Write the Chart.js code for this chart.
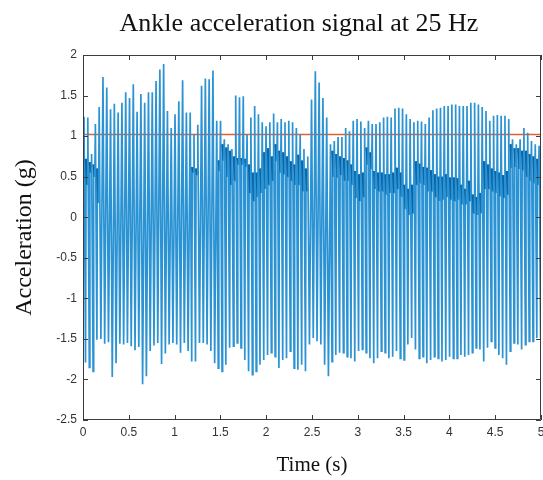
<!DOCTYPE html>
<html>
<head>
<meta charset="utf-8">
<script src="https://cdn.jsdelivr.net/npm/chart.js@4.4.1/dist/chart.umd.min.js"></script>
<style>
  html, body { margin: 0; padding: 0; background: #fff; overflow: hidden; }
  #wrap { position: relative; width: 543px; height: 480px; }
  #title {
    position: absolute; left: 99px; top: 8px; width: 400px;
    line-height: 30px; text-align: center; white-space: nowrap;
    font: 26px "Liberation Serif", serif; color: #111;
  }
</style>
</head>
<body>
<div id="wrap">
  <canvas id="chart" width="543" height="480"></canvas>
  <div id="title">Ankle acceleration signal at 25 Hz</div>
</div>
<script>
// one oscillation per cycle left to right
const firstPeakTime = 0.011; // s
const cyclePeriod = 0.0414;  // s

// peak value of each cycle (g)
const peaks = [
  1.24, 1.23, 0.78, 1.15, 1.36, 1.73, 1.60, 1.33, 1.40, 1.29, 1.41, 1.54, 1.47, 1.64, 1.30, 1.52, 1.41, 1.54, 1.54, 1.68, 1.82, 1.89, 1.31, 1.10,
  1.27, 1.43, 1.69, 1.29, 1.29, 1.02, 1.14, 1.62, 1.71, 1.70, 1.81, 1.19, 1.19, 0.96, 0.90, 0.84, 1.50, 1.48, 1.49, 1.02, 1.23, 1.37, 1.27, 1.17,
  1.12, 1.17, 1.28, 1.17, 1.21, 1.17, 1.19, 1.17, 1.10, 1.02, 0.84, 0.75, 1.45, 1.80, 1.66, 1.47, 1.23, 0.90, 0.94, 0.99, 0.99, 1.10, 1.06, 1.19, 1.21,
  1.18, 1.10, 1.19, 1.15, 1.15, 1.17, 1.23, 1.24, 1.23, 1.34, 1.35, 1.34, 1.27, 1.21, 1.17, 1.19, 1.18, 1.15, 1.23, 1.32, 1.34, 1.35, 1.37, 1.37,
  1.39, 1.39, 1.37, 1.37, 1.37, 1.41, 1.41, 1.39, 1.36, 1.31, 1.19, 1.25, 1.26, 1.25, 1.25, 1.21, 0.96, 0.90, 0.96, 1.10, 1.04, 0.94, 0.90, 0.88
];

// trough after each peak (g)
const troughs = [
  -1.79, -1.85, -1.90, -1.51, -1.50, -1.56, -1.54, -1.97, -1.80, -1.56, -1.57, -1.55, -1.59, -1.64, -1.60, -2.06, -1.96, -1.65, -1.58, -1.55, -1.81, -1.68, -1.57, -1.55,
  -1.57, -1.67, -1.55, -1.65, -1.78, -1.78, -1.55, -1.55, -1.57, -1.65, -1.80, -1.86, -1.90, -1.82, -1.61, -1.59, -1.55, -1.61, -1.76, -1.90, -1.94, -1.90, -1.82, -1.76,
  -1.70, -1.67, -1.72, -1.86, -1.76, -1.74, -1.65, -1.86, -1.88, -1.82, -1.90, -1.57, -1.49, -1.53, -1.57, -1.82, -1.96, -1.78, -1.70, -1.67, -1.67, -1.72, -1.74, -1.78, -1.65,
  -1.63, -1.67, -1.74, -1.80, -1.74, -1.65, -1.67, -1.74, -1.72, -1.65, -1.74, -1.76, -1.57, -1.49, -1.63, -1.74, -1.72, -1.80, -1.76, -1.72, -1.74, -1.78, -1.76, -1.72,
  -1.74, -1.74, -1.70, -1.72, -1.70, -1.67, -1.61, -1.63, -1.78, -1.61, -1.53, -1.61, -1.70, -1.74, -1.82, -1.65, -1.55, -1.57, -1.63, -1.57, -1.53, -1.53, -1.49, -1.49
];

// small bump on the way up (the darker band), null where there is none
const bumpHigh = [
  0.72, 0.68, 0.65, 0.60, null, null, null, null, null, null, null, null, null, null, null, null, null, null, null, null, null, null, null, null,
  null, null, null, null, 0.62, 0.60, null, null, null, null, null, 0.70, 0.90, 0.86, 0.82, 0.75, 0.73, 0.73, 0.72, 0.65, 0.55, 0.55, 0.60, 0.80,
  0.85, 0.75, 0.90, 0.82, 0.80, 0.75, 0.69, 0.65, 0.77, 0.70, 0.60, null, null, null, null, null, null, 0.82, 0.78, 0.75, 0.73, 0.70, 0.65, 0.57, 0.53,
  0.55, 0.86, 0.80, 0.57, 0.55, 0.55, 0.53, 0.53, 0.55, 0.61, 0.55, 0.40, 0.35, 0.40, 0.69, 0.66, 0.62, 0.61, 0.58, 0.53, 0.50, 0.50, 0.53, 0.49,
  0.49, 0.48, 0.40, 0.35, 0.45, 0.28, 0.25, 0.30, 0.69, 0.65, 0.60, 0.57, 0.55, 0.52, 0.57, 0.90, 0.85, 0.85, 0.82, 0.82, 0.78, 0.75, 0.72, 0.80
];
const bumpLow = [
  0.40, 0.55, 0.50, 0.18, null, null, null, null, null, null, null, null, null, null, null, null, null, null, null, null, null, null, null, null,
  null, null, null, null, 0.55, 0.52, null, null, null, null, null, 0.57, 0.70, 0.50, 0.40, 0.45, 0.65, 0.65, 0.62, 0.30, 0.20, 0.25, 0.30, 0.35,
  0.40, 0.45, 0.69, 0.55, 0.53, 0.50, 0.45, 0.40, 0.40, 0.32, 0.32, null, null, null, null, null, null, 0.50, 0.49, 0.52, 0.45, 0.45, 0.40, 0.24, 0.20,
  0.25, 0.65, 0.60, 0.35, 0.32, 0.32, 0.28, 0.30, 0.30, 0.35, 0.25, 0.10, 0.03, 0.05, 0.40, 0.42, 0.40, 0.32, 0.32, 0.25, 0.20, 0.22, 0.25, 0.22,
  0.20, 0.22, 0.16, 0.16, 0.20, 0.05, 0.03, 0.05, 0.35, 0.35, 0.32, 0.30, 0.26, 0.24, 0.28, 0.61, 0.62, 0.60, 0.58, 0.50, 0.45, 0.42, 0.40, 0.45
];

const thresholdLevel = 1.02;
const xTicks = [0, 0.5, 1, 1.5, 2, 2.5, 3, 3.5, 4, 4.5, 5];
const yTicks = [-2.5, -2, -1.5, -1, -0.5, 0, 0.5, 1, 1.5, 2];

// build the sampled signal; remember where each bump dip starts
const signal = [];
const dipStarts = new Set();
peaks.forEach(function (p, k) {
  const t = firstPeakTime + k * cyclePeriod;
  signal.push({ x: t, y: p });
  if (bumpHigh[k] !== null) {
    signal.push({ x: t + 0.4 * cyclePeriod, y: troughs[k] });
    dipStarts.add(signal.length);
    signal.push({ x: t + 0.55 * cyclePeriod, y: bumpHigh[k] });
    signal.push({ x: t + 0.85 * cyclePeriod, y: bumpLow[k] });
  } else {
    signal.push({ x: t + 0.45 * cyclePeriod, y: troughs[k] });
  }
});

// MATLAB style box with inward ticks
const boxTicks = {
  id: "boxTicks",
  afterDatasetsDraw(chart) {
    const { ctx, chartArea: a, scales } = chart;
    const len = 5;
    ctx.save();
    ctx.strokeStyle = "#3c3c3c";
    ctx.lineWidth = 1;
    ctx.beginPath();
    ctx.rect(a.left + 0.5, a.top + 0.5, a.right - a.left - 1, a.bottom - a.top - 1);
    xTicks.forEach(function (v) {
      const px = Math.round(scales.x.getPixelForValue(v)) + 0.5;
      ctx.moveTo(px, a.bottom); ctx.lineTo(px, a.bottom - len);
      ctx.moveTo(px, a.top); ctx.lineTo(px, a.top + len);
    });
    yTicks.forEach(function (v) {
      const py = Math.round(scales.y.getPixelForValue(v)) + 0.5;
      ctx.moveTo(a.left, py); ctx.lineTo(a.left + len, py);
      ctx.moveTo(a.right, py); ctx.lineTo(a.right - len, py);
    });
    ctx.stroke();
    ctx.restore();
  }
};

const tickFont = { family: "'Liberation Sans', Arial, sans-serif", size: 12 };
const labelFont = { family: "'Liberation Serif', 'Times New Roman', serif" };
const plainLabel = function (v) { return String(v); };

new Chart(document.getElementById("chart"), {
  type: "line",
  data: {
    datasets: [
      {
        data: signal,
        borderColor: "#2b93d3",
        borderWidth: 1.7,
        pointRadius: 0,
        tension: 0,
        segment: {
          borderColor: function (c) { return dipStarts.has(c.p0DataIndex) ? "#0b66a8" : undefined; },
          borderWidth: function (c) { return dipStarts.has(c.p0DataIndex) ? 2.6 : undefined; }
        }
      },
      {
        data: [{ x: 0, y: thresholdLevel }, { x: 5, y: thresholdLevel }],
        borderColor: "#E0612F",
        borderWidth: 1.5,
        pointRadius: 0
      }
    ]
  },
  options: {
    responsive: false,
    animation: false,
    devicePixelRatio: 1,
    layout: { padding: { top: 55, right: 2, left: 0, bottom: 0 } },
    plugins: { legend: { display: false }, tooltip: { enabled: false } },
    scales: {
      x: {
        type: "linear",
        min: 0,
        max: 5,
        afterFit: function (s) { s.height = 60; s.paddingLeft = 0; s.paddingRight = 0; },
        afterBuildTicks: function (s) { s.ticks = xTicks.map(function (v) { return { value: v }; }); },
        grid: { display: false, drawTicks: false },
        border: { display: false },
        ticks: { font: tickFont, color: "#333", padding: 5, maxRotation: 0, callback: plainLabel },
        title: { display: true, text: "Time (s)", font: Object.assign({ size: 21 }, labelFont), color: "#111", padding: { bottom: 2 } }
      },
      y: {
        type: "linear",
        min: -2.5,
        max: 2,
        afterFit: function (s) { s.width = 83; },
        afterBuildTicks: function (s) { s.ticks = yTicks.map(function (v) { return { value: v }; }); },
        grid: { display: false, drawTicks: false },
        border: { display: false },
        ticks: { font: tickFont, color: "#333", padding: 6, callback: plainLabel },
        title: { display: true, text: "Acceleration (g)", font: Object.assign({ size: 24 }, labelFont), color: "#111", padding: { top: 10 } }
      }
    }
  },
  plugins: [boxTicks]
});
</script>
</body>
</html>
